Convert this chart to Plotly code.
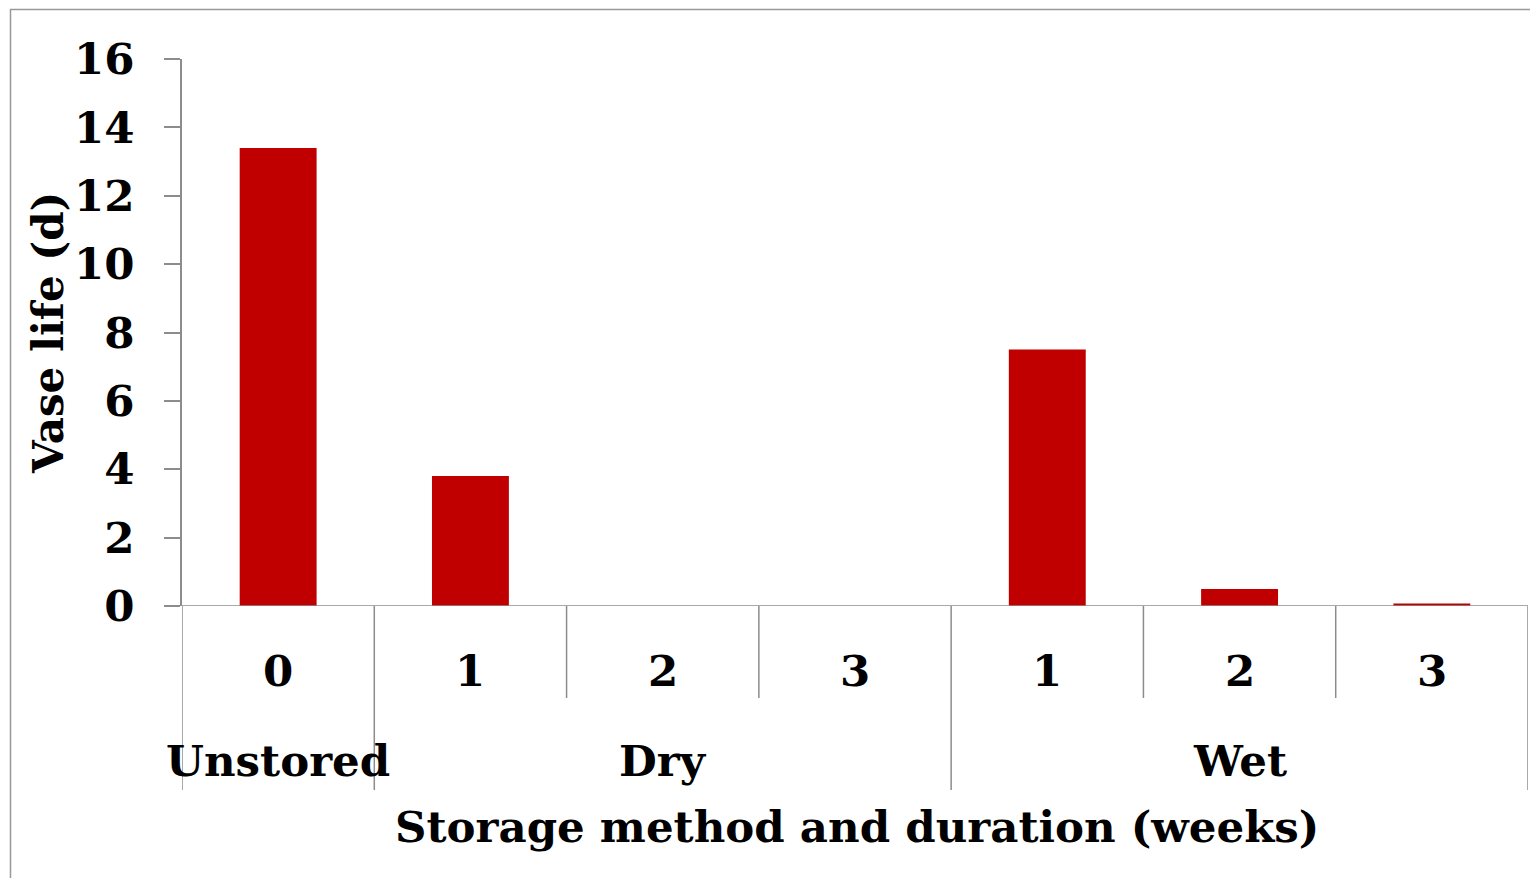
import plotly.graph_objects as go

# Data
groups = ["Unstored", "Dry", "Dry", "Dry", "Wet", "Wet", "Wet"]
weeks = ["0", "1", "2", "3", "1", "2", "3"]
vase_life = [13.4, 3.8, 0.0, 0.0, 7.5, 0.5, 0.07]
group_labels = ["Unstored", "Dry", "Wet"]
group_centers = [0, 2, 5]
y_ticks = [0, 2, 4, 6, 8, 10, 12, 14, 16]

FONT = "DejaVu Serif"
FS = 43.5
AX = "#8c8c8c"
W, H = 1530, 878
# plot area in screen coords: x 182..1528, y 59..606
L, T = 182, 59
R = W - 1528
B = H - 606
pw, ph = W - L - R, H - T - B

def px_y(sy):  # screen y -> paper y
    return (606 - sy) / ph

def px_x(sx):
    return (sx - L) / pw

xs = list(range(len(weeks)))

fig = go.Figure()
fig.add_trace(go.Bar(x=xs, y=vase_life, width=0.4, marker=dict(color="#C00000", line=dict(width=0)),
                     showlegend=False, hoverinfo="skip"))

shapes = []
# outer frame
shapes.append(dict(type="rect", xref="paper", yref="paper", x0=px_x(10.5), x1=px_x(1560),
                   y0=px_y(900), y1=px_y(9.5), line=dict(color="#999999", width=1.5), layer="below"))
# zero line extended left
shapes.append(dict(type="line", xref="paper", yref="y", x0=px_x(166), x1=1, y0=0, y1=0,
                   line=dict(color=AX, width=1.5)))
# category dividers
for i in range(len(weeks) + 1):
    b = i - 0.5
    if i == 0 or i == len(weeks) or groups[i] != groups[i - 1]:
        y_end = px_y(790)
    else:
        y_end = px_y(698)
    shapes.append(dict(type="line", xref="x", yref="paper", x0=b, x1=b, y0=0, y1=y_end,
                       line=dict(color=AX, width=1.5)))

font = dict(family=FONT, size=FS, color="black", weight="bold")
annotations = []
for x, w in zip(xs, weeks):
    annotations.append(dict(x=x, y=px_y(670), xref="x", yref="paper", text=w, showarrow=False,
                            yanchor="middle", xanchor="center", font=font))
for gx, g in zip(group_centers, group_labels):
    annotations.append(dict(x=gx, y=px_y(760), xref="x", yref="paper", text=g, showarrow=False,
                            yanchor="middle", xanchor="center", font=font))
annotations.append(dict(x=px_x(857), y=px_y(826), xref="paper", yref="paper",
                        text="Storage method and duration (weeks)", showarrow=False,
                        yanchor="middle", xanchor="center", font=font))
annotations.append(dict(x=px_x(48), y=px_y(333), xref="paper", yref="paper", text="Vase life (d)",
                        showarrow=False, textangle=-90, yanchor="middle", xanchor="center",
                        font=dict(family=FONT, size=42, color="black", weight="bold")))

fig.update_layout(
    width=W, height=H,
    margin=dict(l=L, r=R, t=T, b=B, pad=0),
    paper_bgcolor="white", plot_bgcolor="white",
    xaxis=dict(range=[-0.5, 6.5], showticklabels=False, showgrid=False, zeroline=False,
               showline=False, ticks=""),
    yaxis=dict(range=[0, 16], tickvals=y_ticks, ticktext=[str(v) for v in y_ticks],
               showgrid=False, zeroline=False, showline=True, linecolor=AX, linewidth=1.5,
               ticks="outside", ticklen=16, tickcolor=AX, tickwidth=1.5,
               ticklabelstandoff=21, tickfont=font),
    shapes=shapes, annotations=annotations, bargap=0.6,
)

fig.write_html("out.html", config={"displayModeBar": False},
               post_script="document.body.style.margin='0px';document.body.style.overflow='hidden';")
